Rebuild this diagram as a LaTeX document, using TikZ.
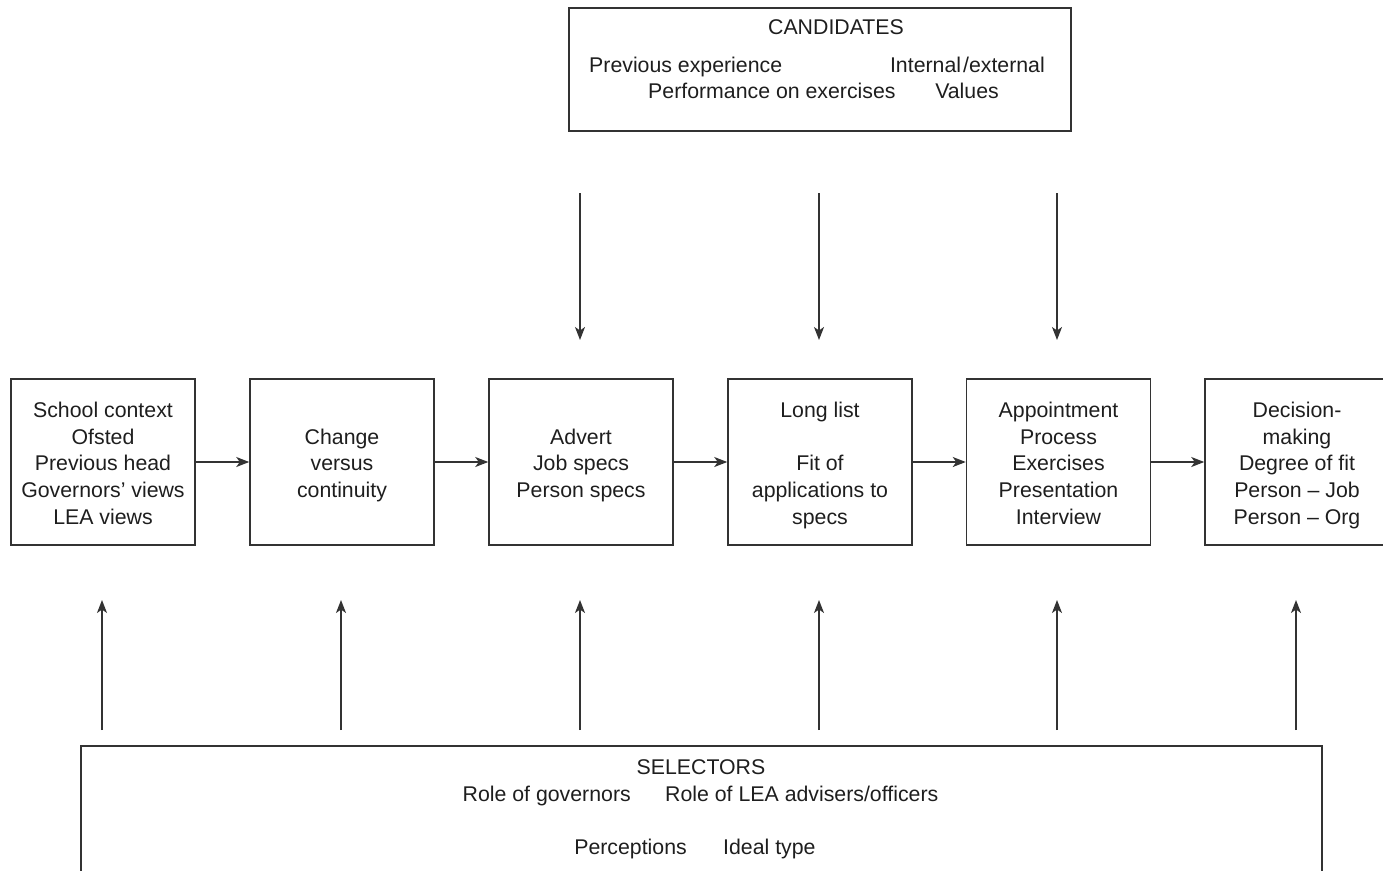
\documentclass[tikz,border=0pt]{standalone}
\usepackage{fontspec}
\setmainfont{Liberation Sans}
\usetikzlibrary{arrows.meta}
\definecolor{edge}{HTML}{333333}
\definecolor{ink}{HTML}{1E1E1E}
% centred stack of lines, every row with the same height and depth
\newcommand\stack[1]{\begin{tabular}{@{}c@{}}#1\end{tabular}}
\begin{document}
\begin{tikzpicture}[x=1pt,y=-1pt,
  txt/.style={font=\fontsize{21.3}{26.7}\selectfont, text=ink, inner sep=0pt},
  panel/.style={draw=edge, line width=1.5pt, inner sep=0pt},
  stage/.style={panel, minimum width=184pt, minimum height=166pt},
  stagetext/.style={txt, yshift=-3.5pt},
  flow/.style={draw=edge, line width=1.4pt, -{Stealth[length=13pt,width=10pt,inset=3.5pt]}},
]
\clip (0,0) rectangle (1383,870);

% candidates panel
\node[panel, minimum width=502pt, minimum height=123pt] (cand) at (820,69.5) {};
\node[txt, anchor=base] (candT) at (836,34.5) {CANDIDATES};
\node[txt, anchor=base west] (cand1) at (589,72.5) {Previous experience};
\node[txt, anchor=base east] (cand2) at (1045,72.5) {Internal\kern2pt/external};
\node[txt, anchor=base west] (cand3) at (648,98.5) {Performance on exercises};
\node[txt, anchor=base east] (cand4) at (999,98.5) {Values};

% stages of the process
\node[stage] (s1) at (103,462)    {};
\node[stage] (s2) at (342,462)    {};
\node[stage] (s3) at (581,462)    {};
\node[stage] (s4) at (820,462)    {};
\node[stage] (s5) at (1058.5,462) {};
\node[stage] (s6) at (1297,462)   {};

\node[stagetext] (s1t) at (s1) {\stack{School context\\Ofsted\\Previous head\\Governors’ views\\LEA views}};
\node[stagetext] (s2t) at (s2) {\stack{Change\\versus\\continuity}};
\node[stagetext] (s3t) at (s3) {\stack{Advert\\Job specs\\Person specs}};
\node[stagetext] (s4t) at (s4) {\stack{Long list\\ \\Fit of\\applications to\\specs}};
\node[stagetext] (s5t) at (s5) {\stack{Appointment\\Process\\Exercises\\Presentation\\Interview}};
\node[stagetext] (s6t) at (s6) {\stack{Decision-\\making\\Degree of fit\\Person -- Job\\Person -- Org}};

\foreach \a/\b in {s1/s2,s2/s3,s3/s4,s4/s5,s5/s6}
  \draw[flow] (\a) -- (\b);

% selectors panel
\node[panel, minimum width=1241pt, minimum height=160pt] (sel) at (701.5,826) {};
\node[txt, anchor=base] (selT) at (701,774.5) {SELECTORS};
\node[txt, anchor=base east] (sel1) at (631,801.5) {Role of governors};
\node[txt, anchor=base west] (sel2) at (665,801.5) {Role of LEA advisers/officers};
\node[txt, anchor=base east] (sel3) at (687,854.5) {Perceptions};
\node[txt, anchor=base west] (sel4) at (723,854.5) {Ideal type};

% influences from the candidates
\foreach \i/\x in {1/580,2/819,3/1057}{
  \coordinate (d\i a) at (\x,193);
  \coordinate (d\i b) at (\x,340);
  \draw[flow] (d\i a) -- (d\i b);
}

% influences from the selectors
\foreach \i/\x in {1/102,2/341,3/580,4/819,5/1057,6/1296}{
  \coordinate (u\i a) at (\x,730);
  \coordinate (u\i b) at (\x,600);
  \draw[flow] (u\i a) -- (u\i b);
}
\end{tikzpicture}
\end{document}
